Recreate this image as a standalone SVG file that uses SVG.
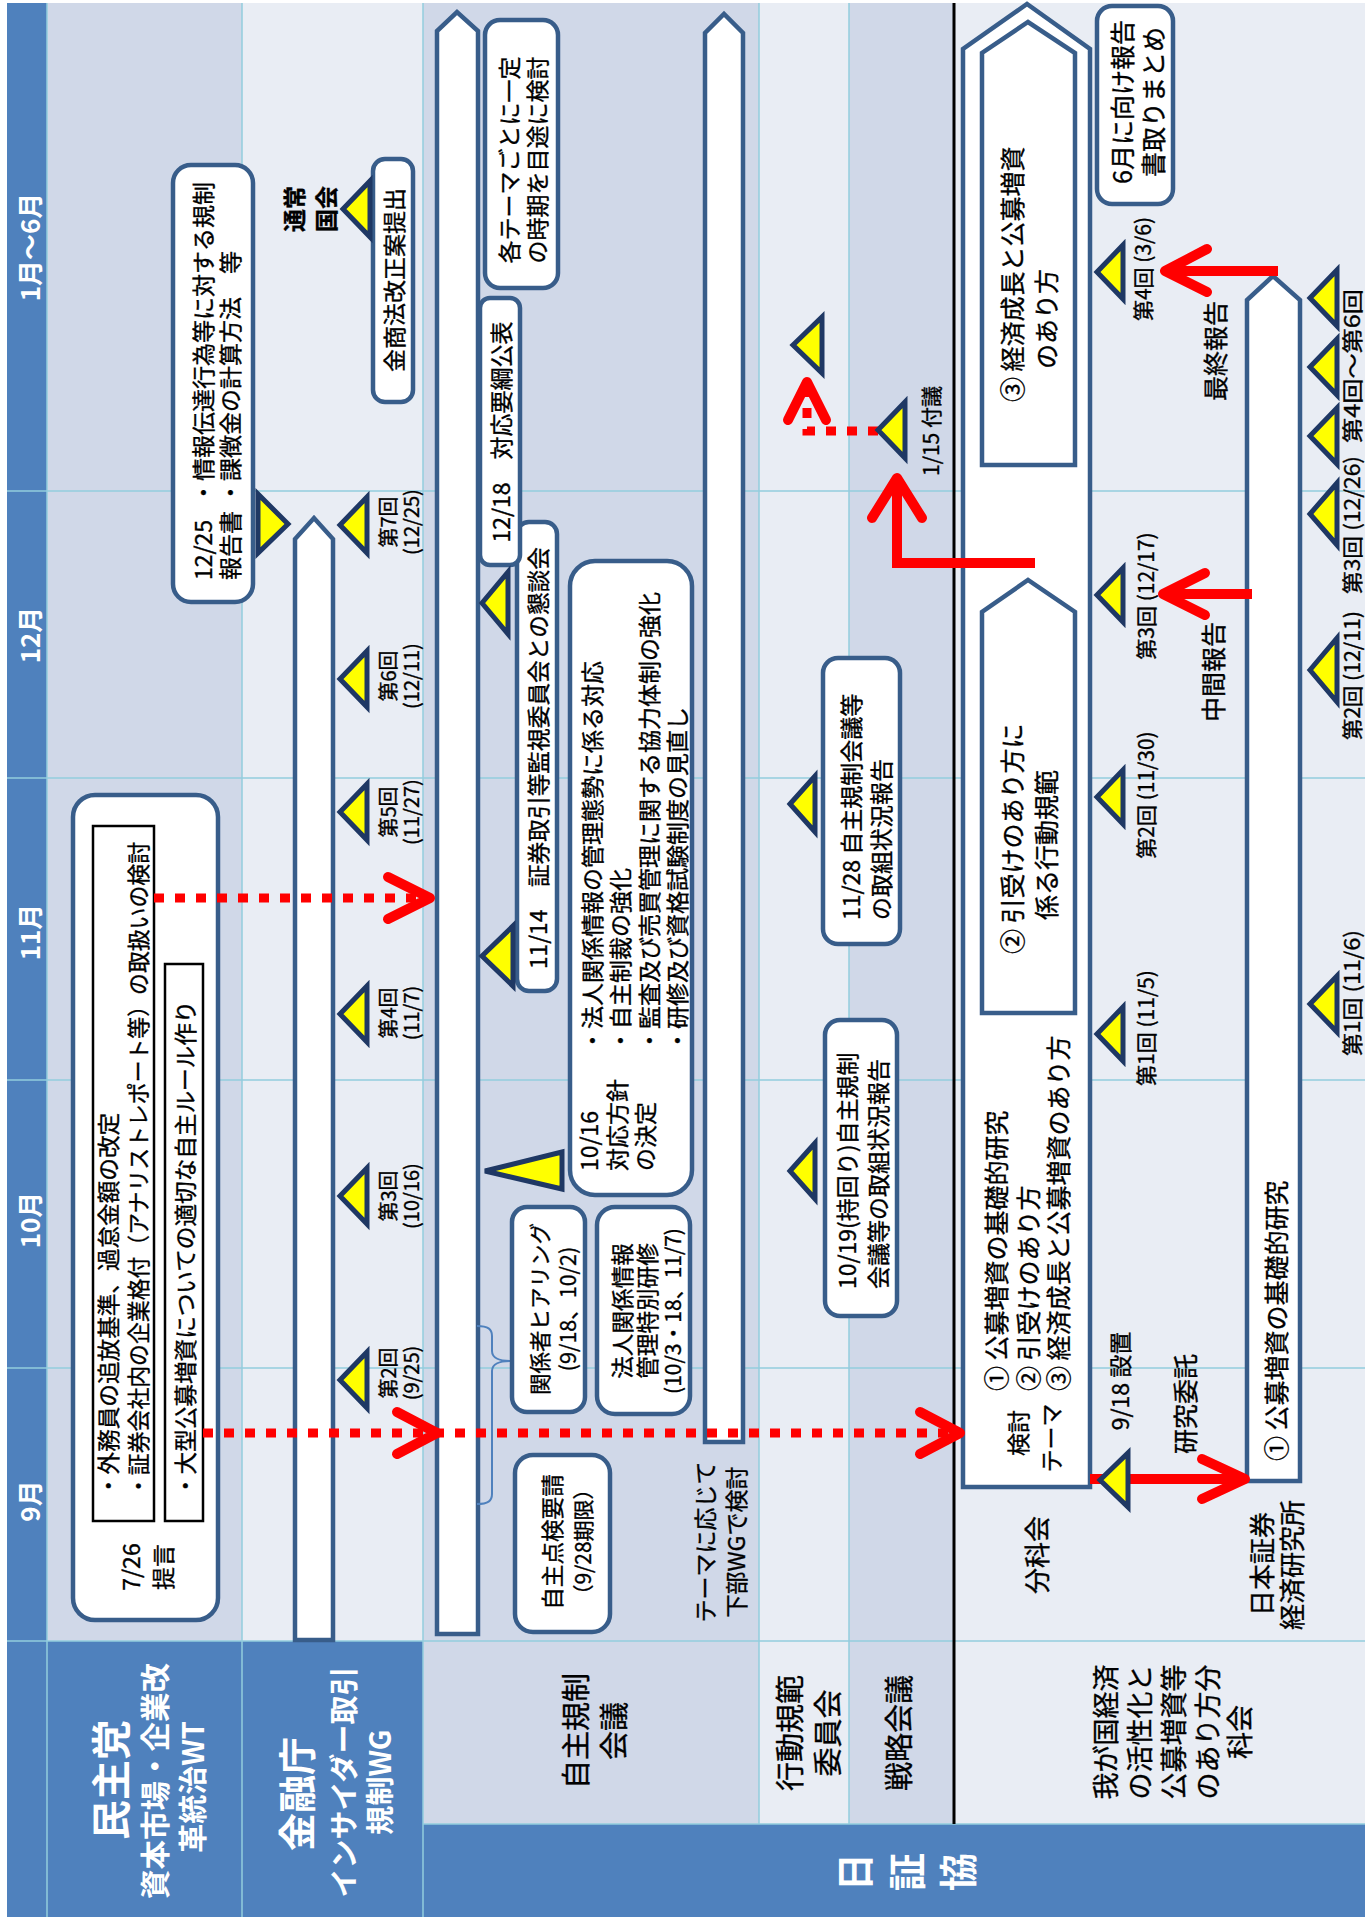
<svg xmlns="http://www.w3.org/2000/svg" width="1365" height="1917" viewBox="0 0 1365 1917">
<style>
text{font-family:"Noto Sans CJK JP","Noto Sans",sans-serif;dominant-baseline:central;fill:#000;stroke:#000;stroke-width:0.35}
.m{text-anchor:middle}
.w{fill:#fff;stroke:none;font-weight:bold}
.b{font-weight:bold}
.box{fill:#fff;stroke:#385D8A;stroke-width:4.5}
.bar{fill:#fff;stroke:#385D8A;stroke-width:4.5}
.sq{fill:#fff;stroke:#000;stroke-width:2.5}
.tri{fill:#FFFF00;stroke:#1F3864;stroke-width:5;stroke-linejoin:miter}
.rl{stroke:#FF0000;stroke-width:10;fill:none}
.rd{stroke:#FF0000;stroke-width:9;fill:none;stroke-dasharray:10 11}
.hd{fill:none;stroke:#FF0000;stroke-width:10;stroke-linecap:round;stroke-linejoin:round}
.g{stroke:#93CDDD;stroke-width:1.5;fill:none}
.f20{font-size:20px}.f21{font-size:21px}.f22{font-size:22.6px}.f23{font-size:23px}.f25{font-size:25px}.f26{font-size:26px}.f27{font-size:27px}.f29{font-size:29px}
</style>
<rect width="1365" height="1917" fill="#fff"/>
<g transform="translate(0,1917) rotate(-90)">
<g id="background">
<rect x="0" y="7" width="1914" height="40" fill="#4F81BD"/>
<rect x="0" y="47" width="276" height="376" fill="#4F81BD"/>
<rect x="0" y="423" width="93" height="942" fill="#4F81BD"/>
<rect x="93" y="423" width="183" height="336" fill="#D0D8E8"/>
<rect x="93" y="759" width="183" height="90" fill="#E9EDF4"/>
<rect x="93" y="849" width="183" height="105" fill="#D0D8E8"/>
<rect x="93" y="954" width="183" height="411" fill="#E9EDF4"/>
<rect x="276" y="47" width="1638" height="195" fill="#D0D8E8"/>
<rect x="276" y="242" width="1638" height="181" fill="#E9EDF4"/>
<rect x="276" y="423" width="1638" height="336" fill="#D0D8E8"/>
<rect x="276" y="759" width="1638" height="90" fill="#E9EDF4"/>
<rect x="276" y="849" width="1638" height="105" fill="#D0D8E8"/>
<rect x="276" y="954" width="1638" height="411" fill="#E9EDF4"/>
<path class="g" d="M276 7V1365M549 7V1365M837 7V1365M1139 7V1365M1426 7V1365M93 423V1365M0 47H1914M0 242H1914M0 423H1914M93 759H1914M93 849H1914"/>
<line x1="93" y1="954" x2="1914" y2="954" stroke="#000" stroke-width="3"/>
</g>
<g id="months">
<text class="w m f26" x="416" y="28">9月</text>
<text class="w m f26" x="697" y="28">10月</text>
<text class="w m f26" x="985" y="28">11月</text>
<text class="w m f26" x="1282" y="28">12月</text>
<text class="w m f26" x="1670" y="28">1月～6月</text>
</g>
<g id="row-labels">
<text class="w m" style="font-size:40px" x="137" y="109">民主党</text>
<text class="w m" style="font-size:29.5px" x="136" y="153">資本市場・企業改</text>
<text class="w m f29" x="130" y="191">革統治WT</text>
<text class="w m" style="font-size:38px" x="123" y="294">金融庁</text>
<text class="w m f29" x="135" y="342">インサイダー取引</text>
<text class="w m f29" x="135" y="378">規制WG</text>
<text class="w m" style="font-size:38px" x="45" y="852">日</text>
<text class="w m" style="font-size:38px" x="45" y="904">証</text>
<text class="w m" style="font-size:38px" x="45" y="955">協</text>
<text class="m f29" x="186" y="574">自主規制</text>
<text class="m f29" x="186" y="612">会議</text>
<text class="m f29" x="184" y="788">行動規範</text>
<text class="m f29" x="184" y="826">委員会</text>
<text class="m f29" x="184" y="897">戦略会議</text>
<text class="m f27" x="185" y="1104">我が国経済</text>
<text class="m f27" x="185" y="1138">の活性化と</text>
<text class="m f27" x="185" y="1172">公募増資等</text>
<text class="m f27" x="185" y="1206">のあり方分</text>
<text class="m f27" x="185" y="1238">科会</text>
</g>
<g id="minshu-teigen">
<rect class="box" x="297" y="73" width="825" height="145" rx="22"/>
<text class="f23 m" x="350" y="130">7/26</text>
<text class="f23 m" x="350" y="162">提言</text>
</g>
<g id="minshu-item1">
<rect class="sq" x="396" y="93" width="695" height="61"/>
<text class="f22" x="420" y="107">・外務員の追放基準、過怠金額の改定</text>
<text class="f22" x="420" y="137" textLength="655" lengthAdjust="spacingAndGlyphs">・証券会社内の企業格付（アナリストレポート等）の取扱いの検討</text>
</g>
<g id="minshu-item2">
<rect class="sq" x="396" y="165" width="557" height="38"/>
<text class="f22" x="420" y="184">・大型公募増資についての適切な自主ルール作り</text>
</g>
<g id="fsa-bar"><polygon class="bar" points="277,295 1378,295 1399,314 1378,333 277,333"/></g>
<g id="fsa-report">
<rect class="box" x="1315" y="173" width="437" height="80" rx="18"/>
<text class="f23" x="1337" y="202">12/25</text>
<text class="f23" x="1413" y="202">・情報伝達行為等に対する規制</text>
<text class="f23" x="1337" y="229">報告書</text>
<text class="f23" x="1413" y="229">・課徴金の計算方法　等</text>
</g>
<g id="fsa-kokkai">
<text class="f23 m b" x="1708" y="293">通常</text>
<text class="f23 m b" x="1708" y="325">国会</text>
</g>
<g id="fsa-bill">
<rect class="box" x="1515" y="373" width="243" height="40" rx="12"/>
<text class="f23 m" x="1637" y="393">金商法改正案提出</text>
</g>
<g id="fsa-meetings">
<text class="f20 m" x="544" y="387">第2回</text><text class="f20 m" x="544" y="410">(9/25)</text>
<text class="f20 m" x="721" y="387">第3回</text><text class="f20 m" x="721" y="410">(10/16)</text>
<text class="f20 m" x="904" y="387">第4回</text><text class="f20 m" x="904" y="410">(11/7)</text>
<text class="f20 m" x="1105" y="387">第5回</text><text class="f20 m" x="1105" y="410">(11/27)</text>
<text class="f20 m" x="1241" y="387">第6回</text><text class="f20 m" x="1241" y="410">(12/11)</text>
<text class="f20 m" x="1395" y="387">第7回</text><text class="f20 m" x="1395" y="410">(12/25)</text>
</g>
<g id="jishu-bar"><polygon class="bar" points="283,437 1886,437 1905,457 1886,478 283,478"/></g>
<g id="jishu-wg-bar"><polygon class="bar" points="475,705 1884,705 1903,724 1884,743 475,743"/></g>
<g id="jishu-bracket"><path d="M591,477 C591,488 588,492 581,492 L566,492 C559,492 556,500 556,510 C556,500 553,492 546,492 L423,492 C416,492 413,488 413,477" fill="none" stroke="#4F81BD" stroke-width="2"/></g>
<g id="jishu-tenken">
<rect class="box" x="285" y="515" width="177" height="95" rx="18"/>
<text class="f22 m" x="375" y="551">自主点検要請</text>
<text class="f21 m" x="375" y="582">（9/28期限）</text>
</g>
<g id="jishu-hearing">
<rect class="box" x="505" y="512" width="205" height="73" rx="15"/>
<text class="m" style="font-size:21.5px" x="608" y="538">関係者ヒアリング</text>
<text class="m" style="font-size:21.5px" x="608" y="566">(9/18、10/2)</text>
</g>
<g id="jishu-kenshu">
<rect class="box" x="503" y="597" width="207" height="93" rx="18"/>
<text class="f22 m" x="606" y="621">法人関係情報</text>
<text class="f22 m" x="606" y="646">管理特別研修</text>
<text class="f21 m" x="606" y="672">(10/3・18、11/7)</text>
</g>
<g id="jishu-wg-text">
<text class="f23 m" x="375" y="704">テーマに応じて</text>
<text class="f23 m" x="375" y="735">下部WGで検討</text>
</g>
<g id="jishu-houshin">
<rect class="box" x="722" y="570" width="634" height="122" rx="25"/>
<text class="f23" x="746" y="588">10/16</text>
<text class="f23" x="746" y="616">対応方針</text>
<text class="f23" x="746" y="644">の決定</text>
<text class="f23" x="865" y="591">・法人関係情報の管理態勢に係る対応</text>
<text class="f23" x="865" y="619">・自主制裁の強化</text>
<text class="f23" x="865" y="648">・監査及び売買管理に関する協力体制の強化</text>
<text class="f23" x="865" y="676">・研修及び資格試験制度の見直し</text>
</g>
<g id="jishu-kondankai">
<rect class="box" x="926" y="517" width="469" height="40" rx="12"/>
<text class="f23" x="948" y="537" textLength="422" lengthAdjust="spacingAndGlyphs">11/14　証券取引等監視委員会との懇談会</text>
</g>
<g id="jishu-youkou">
<rect class="box" x="1352" y="480" width="267" height="40" rx="10"/>
<text class="f23 m" x="1485" y="500">12/18　対応要綱公表</text>
</g>
<g id="jishu-theme">
<rect class="box" x="1629" y="485" width="268" height="73" rx="15"/>
<text class="f23 m" x="1757" y="508">各テーマごとに一定</text>
<text class="f23 m" x="1757" y="536">の時期を目途に検討</text>
</g>
<g id="koudou-1019">
<rect class="box" x="601" y="825" width="296" height="72" rx="15"/>
<text class="f23" x="628" y="846">10/19(持回り)自主規制</text>
<text class="f23" x="628" y="877">会議等の取組状況報告</text>
</g>
<g id="koudou-1128">
<rect class="box" x="973" y="823" width="286" height="77" rx="15"/>
<text class="f23" x="997" y="850">11/28 自主規制会議等</text>
<text class="f23" x="997" y="880">の取組状況報告</text>
</g>
<g id="senryaku-fugi"><text class="f21 m" x="1486" y="930">1/15 付議</text></g>
<g id="bunkakai">
<polygon class="bar" points="430,963 1868,963 1913,1027 1868,1090 430,1090"/>
<text class="f23 m" x="484" y="1017">検討</text>
<text class="f23 m" x="479" y="1050">テーマ</text>
<text class="f25" x="526" y="995">① 公募増資の基礎的研究</text>
<text class="f25" x="526" y="1027">② 引受けのあり方</text>
<text class="f25" x="526" y="1057">③ 経済成長と公募増資のあり方</text>
</g>
<g id="bunkakai-theme2">
<polygon class="bar" points="904,982 1305,982 1337,1028 1305,1075 904,1075"/>
<text class="f25" x="963" y="1011">② 引受けのあり方に</text>
<text class="f25" x="997" y="1045">係る行動規範</text>
</g>
<g id="bunkakai-theme3">
<polygon class="bar" points="1452,982 1864,982 1895,1028 1864,1075 1452,1075"/>
<text class="f25" x="1515" y="1011">③ 経済成長と公募増資</text>
<text class="f25" x="1548" y="1045">のあり方</text>
</g>
<g id="bunkakai-report">
<rect class="box" x="1713" y="1097" width="198" height="76" rx="15"/>
<text class="f25 m" x="1815" y="1121">6月に向け報告</text>
<text class="f25 m" x="1815" y="1152">書取りまとめ</text>
</g>
<g id="bunkakai-labels">
<text class="f26 m" x="362" y="1035">分科会</text>
<text class="f23 m" x="536" y="1119">9/18 設置</text>
<text class="f25 m" x="513" y="1184">研究委託</text>
<text class="f21 m" x="889" y="1145">第1回 (11/5)</text>
<text class="f21 m" x="1122" y="1145">第2回 (11/30)</text>
<text class="f21 m" x="1321" y="1145">第3回 (12/17)</text>
<text class="f21 m" x="1648" y="1142">第4回 (3/6)</text>
<text class="f25 m" x="1245" y="1212">中間報告</text>
<text class="f25 m" x="1566" y="1214">最終報告</text>
</g>
<g id="jsri-bar">
<polygon class="bar" points="436,1247 1617,1247 1641,1273 1617,1300 436,1300"/>
<text class="f25" x="456" y="1275">① 公募増資の基礎的研究</text>
</g>
<g id="jsri-labels">
<text class="f26 m" x="353" y="1260">日本証券</text>
<text class="f26 m" x="352" y="1290">経済研究所</text>
<text class="f21" x="861" y="1351" textLength="126" lengthAdjust="spacingAndGlyphs">第1回 (11/6)</text>
<text class="f21" x="1177" y="1351" textLength="129" lengthAdjust="spacingAndGlyphs">第2回 (12/11)</text>
<text class="f21" x="1323" y="1351" textLength="138" lengthAdjust="spacingAndGlyphs">第3回 (12/26)</text>
<text class="f21" x="1474" y="1351" textLength="154" lengthAdjust="spacingAndGlyphs">第4回～第6回</text>
</g>
<g id="connectors">
<line class="rd" x1="1019" y1="154" x2="1019" y2="422"/>
<polyline class="hd" points="1040,388 1019,430 998,388"/>
<line class="rd" x1="484" y1="203" x2="484" y2="952"/>
<polyline class="hd" points="505,397 484,437 463,397"/>
<polyline class="hd" points="505,920 484,960 463,920"/>
<polyline class="rd" points="1486,878 1486,807 1528,807"/>
<polyline class="hd" points="1497,788 1535,807 1497,826"/>
<polyline class="rl" points="1354,1035 1354,897 1432,897"/>
<polyline class="hd" points="1399,872 1439,897 1399,922"/>
<line class="rl" x1="438" y1="1090" x2="438" y2="1238"/>
<polyline class="hd" points="418,1202 438,1245 458,1202"/>
<line class="rl" x1="1323" y1="1252" x2="1323" y2="1170"/>
<polyline class="hd" points="1344,1205 1323,1163 1302,1205"/>
<line class="rl" x1="1646" y1="1278" x2="1646" y2="1172"/>
<polyline class="hd" points="1668,1207 1646,1165 1625,1207"/>
</g>
<g id="markers">
<polygon class="tri" points="537,340 565,367 509,367"/>
<polygon class="tri" points="721,340 749,367 693,367"/>
<polygon class="tri" points="903,340 931,367 875,367"/>
<polygon class="tri" points="1105,340 1133,367 1077,367"/>
<polygon class="tri" points="1238,340 1266,367 1210,367"/>
<polygon class="tri" points="1392,340 1420,367 1364,367"/>
<polygon class="tri" points="1708,343 1736,370 1680,370"/>
<polygon class="tri" points="1393,288 1423,258 1364,258"/>
<polygon class="tri" points="961,482 991,513 931,513"/>
<polygon class="tri" points="1314,482 1345,508 1283,508"/>
<polygon class="tri" points="746,485 765,562 728,562"/>
<polygon class="tri" points="746,790 774,815 718,815"/>
<polygon class="tri" points="1113,790 1141,815 1085,815"/>
<polygon class="tri" points="1572,793 1600,822 1544,822"/>
<polygon class="tri" points="1487,878 1515,905 1459,905"/>
<polygon class="tri" points="437,1100 464,1128 410,1128"/>
<polygon class="tri" points="883,1097 910,1123 856,1123"/>
<polygon class="tri" points="1120,1097 1147,1123 1093,1123"/>
<polygon class="tri" points="1322,1097 1349,1123 1295,1123"/>
<polygon class="tri" points="1645,1097 1672,1123 1618,1123"/>
<polygon class="tri" points="913,1310 941,1337 885,1337"/>
<polygon class="tri" points="1247,1310 1279,1337 1215,1337"/>
<polygon class="tri" points="1403,1310 1434,1337 1372,1337"/>
<polygon class="tri" points="1481,1310 1509,1337 1453,1337"/>
<polygon class="tri" points="1550,1310 1578,1337 1522,1337"/>
<polygon class="tri" points="1619,1310 1647,1337 1591,1337"/>
</g>
</g>
</svg>
